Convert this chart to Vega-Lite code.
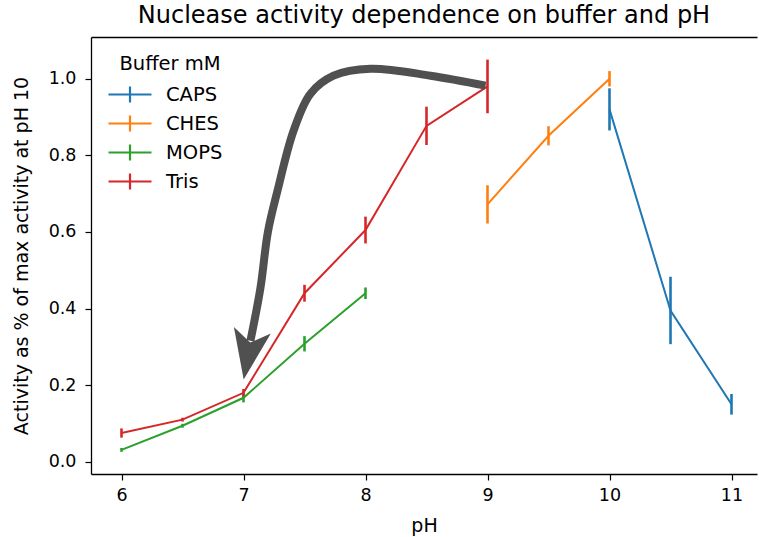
{
  "$schema": "https://vega.github.io/schema/vega-lite/v6.json",
  "width": 666,
  "height": 437,
  "autosize": {"type": "none"},
  "padding": {"left": 91, "top": 37, "right": 2, "bottom": 63},
  "background": "white",
  "config": {
    "font": "DejaVu Sans",
    "view": {"stroke": null},
    "axis": {
      "grid": false,
      "domainColor": "#000000",
      "domainWidth": 1.3,
      "tickColor": "#000000",
      "tickWidth": 1.2,
      "tickSize": 6,
      "labelFontSize": 17.5,
      "labelColor": "#000000",
      "titleFontSize": 19,
      "titleFontWeight": "normal",
      "titleColor": "#000000"
    }
  },
  "title": {
    "text": "Nuclease activity dependence on buffer and pH",
    "fontSize": 24,
    "fontWeight": "normal",
    "color": "#000000",
    "anchor": "middle",
    "offset": 9
  },
  "data": {
    "values": [
      {"buffer": "CAPS", "pH": 10, "act": 0.92, "err": 0.055},
      {"buffer": "CAPS", "pH": 10.5, "act": 0.395, "err": 0.088},
      {"buffer": "CAPS", "pH": 11, "act": 0.15, "err": 0.027},
      {"buffer": "CHES", "pH": 9, "act": 0.672, "err": 0.05},
      {"buffer": "CHES", "pH": 9.5, "act": 0.851, "err": 0.025},
      {"buffer": "CHES", "pH": 10, "act": 1.0, "err": 0.02},
      {"buffer": "MOPS", "pH": 6, "act": 0.031, "err": 0.005},
      {"buffer": "MOPS", "pH": 6.5, "act": 0.094, "err": 0.005},
      {"buffer": "MOPS", "pH": 7, "act": 0.167, "err": 0.012},
      {"buffer": "MOPS", "pH": 7.5, "act": 0.308, "err": 0.02},
      {"buffer": "MOPS", "pH": 8, "act": 0.44, "err": 0.015},
      {"buffer": "Tris", "pH": 6, "act": 0.075, "err": 0.012},
      {"buffer": "Tris", "pH": 6.5, "act": 0.11, "err": 0.005},
      {"buffer": "Tris", "pH": 7, "act": 0.18, "err": 0.01},
      {"buffer": "Tris", "pH": 7.5, "act": 0.44, "err": 0.022},
      {"buffer": "Tris", "pH": 8, "act": 0.605, "err": 0.035},
      {"buffer": "Tris", "pH": 8.5, "act": 0.877, "err": 0.05},
      {"buffer": "Tris", "pH": 9, "act": 0.98, "err": 0.07}
    ]
  },
  "layer": [
    {
      "mark": {"type": "errorbar", "thickness": 2.6},
      "encoding": {
        "x": {"field": "pH", "type": "quantitative",
              "scale": {"domain": [5.75, 11.209], "nice": false, "zero": false},
              "axis": {"orient": "bottom", "values": [6, 7, 8, 9, 10, 11], "format": "d", "title": "pH", "labelPadding": 6, "titlePadding": 13}},
        "y": {"field": "act", "type": "quantitative",
              "scale": {"domain": [-0.032, 1.109], "nice": false, "zero": false},
              "axis": {"orient": "left", "values": [0, 0.2, 0.4, 0.6, 0.8, 1.0], "format": ".1f", "title": "Activity as % of max activity at pH 10", "labelPadding": 9, "titlePadding": 17}},
        "yError": {"field": "err"},
        "color": {"field": "buffer", "type": "nominal",
                  "scale": {"domain": ["CAPS", "CHES", "MOPS", "Tris"], "range": ["#1f77b4", "#ff7f0e", "#2ca02c", "#d62728"]},
                  "legend": {
                    "title": "Buffer mM",
                    "orient": "none",
                    "legendX": 27,
                    "legendY": 18,
                    "padding": 0,
                    "titleFontSize": 19.5,
                    "titleFontWeight": "normal",
                    "titleColor": "#000000",
                    "titleAnchor": "middle",
                    "titlePadding": 8,
                    "labelFontSize": 19.5,
                    "labelColor": "#000000",
                    "labelOffset": 24,
                    "rowPadding": 3,
                    "symbolType": "M-2,0H2M0,-0.75V0.75",
                    "symbolSize": 462,
                    "symbolStrokeWidth": 2.2
                  }}
      }
    },
    {
      "mark": {"type": "line", "strokeWidth": 2},
      "encoding": {
        "x": {"field": "pH", "type": "quantitative", "axis": null},
        "y": {"field": "act", "type": "quantitative"},
        "color": {"field": "buffer", "type": "nominal"}
      }
    },
    {
      "data": {
        "values": [
          {"i": 1, "x": 8.984, "y": 0.982},
          {"i": 2, "x": 8.533, "y": 1.008},
          {"i": 3, "x": 8.041, "y": 1.026},
          {"i": 4, "x": 7.738, "y": 1.008},
          {"i": 5, "x": 7.549, "y": 0.961},
          {"i": 6, "x": 7.41, "y": 0.864},
          {"i": 7, "x": 7.279, "y": 0.708},
          {"i": 8, "x": 7.2, "y": 0.6},
          {"i": 9, "x": 7.139, "y": 0.454},
          {"i": 10, "x": 7.057, "y": 0.316}
        ]
      },
      "mark": {"type": "line", "color": "#505050", "strokeWidth": 8, "interpolate": "catmull-rom", "strokeCap": "butt"},
      "encoding": {
        "x": {"field": "x", "type": "quantitative", "axis": {"orient": "top", "labels": false, "ticks": false, "title": null, "domainColor": "#000000", "domainWidth": 1.3}},
        "y": {"field": "y", "type": "quantitative"},
        "order": {"field": "i"}
      }
    },
    {
      "data": {"values": [{"x": 7.037, "y": 0.279}]},
      "mark": {"type": "point", "shape": "M0,1L-0.75,-1L0,-0.5L0.75,-1Z", "size": 2500, "filled": true, "color": "#505050", "opacity": 1, "angle": 10},
      "encoding": {
        "x": {"field": "x", "type": "quantitative", "axis": null},
        "y": {"field": "y", "type": "quantitative"}
      }
    }
  ]
}
